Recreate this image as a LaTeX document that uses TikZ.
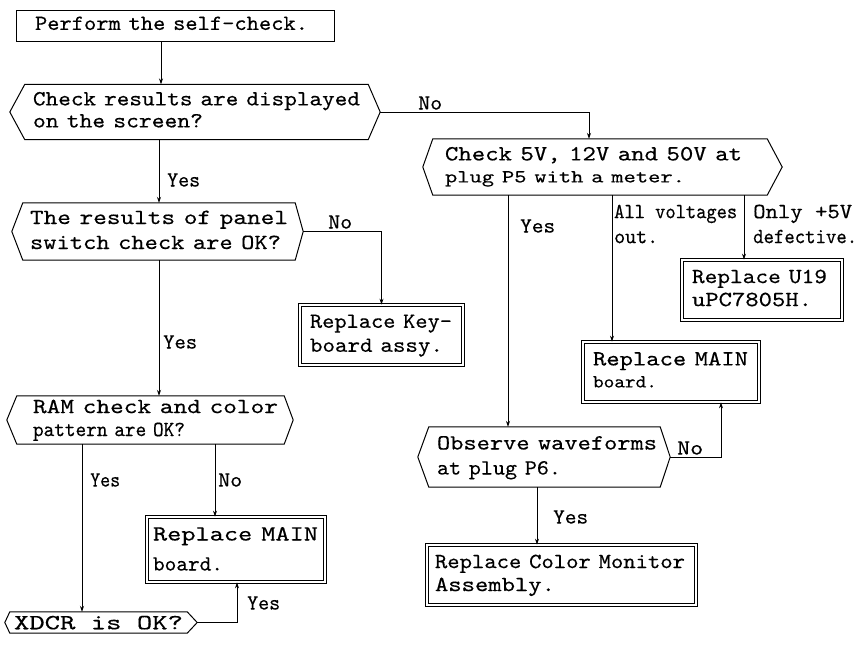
\documentclass[tikz,border=0pt]{standalone}
\usepackage{fontspec}
\newfontfamily\twfont{lmmono10-regular}[Extension=.otf, FakeBold=0.35]
\usepackage{graphicx}
\usetikzlibrary{arrows.meta}
\newcommand\fw[2]{\resizebox{#1pt}{1.08\height}{#2}}
\newcommand\fwv[3]{\resizebox{#1pt}{#2\height}{#3}}
\newcommand\myfs[1]{\twfont\fontsize{20}{#1}\selectfont}
\newcommand\hexa[3]{\draw[shp] (#1.north west) -- (#1.north east) -- ([xshift=#3pt]#1.east) -- (#1.south east) -- (#1.south west) -- ([xshift=-#2pt]#1.west) -- cycle;}
\tikzset{
  shp/.style={line width=1pt},
  arr/.style={line width=0.8pt, -{Stealth[length=6pt,width=4pt]}},
  box/.style={inner ysep=0pt, align=left},
  rbox/.style={box, draw, double, double distance=2pt, line width=0.8pt},
  lbl/.style={inner sep=0pt, anchor=west, align=left, font=\myfs{25}},
}
\begin{document}
\begin{tikzpicture}[x=1pt,y=-1pt]
\useasboundingbox (0,0) rectangle (863,648);
% nodes
\node[box, draw, line width=1pt, minimum height=31pt, inner xsep=19pt, text width=280pt, font=\myfs{22}] (start) at (175,25.5) {\strut\fw{273}{Perform the self-check.}};
\node[box, minimum height=55pt, inner xsep=8pt, text width=327pt, font=\myfs{22}] (d1) at (196.5,112) {\strut\fw{327}{Check results are displayed}\\\strut\fw{170}{on the screen?}};
\node[box, minimum height=56pt, inner xsep=12pt, text width=310pt, font=\myfs{22}] (d2) at (600,167) {\strut\fw{297}{Check 5V, 12V and 50V at}\\\strut\fwv{240}{0.92}{plug P5 with a meter.}};
\node[box, minimum height=57pt, inner xsep=7pt, text width=258pt, font=\myfs{25}] (d3) at (159,231.5) {\strut\fw{258}{The results of panel}\\\strut\fw{251}{switch check are OK?}};
\node[rbox, minimum height=60pt, inner xsep=10pt, text width=143pt, font=\myfs{24}] (key) at (381.5,335) {\strut\fw{142}{Replace Key-}\\\strut\fw{133}{board assy.}};
\node[rbox, minimum height=60pt, inner xsep=10pt, text width=140pt, font=\myfs{23}] (u19) at (762,290) {\strut\fw{135}{Replace U19}\\\strut\fw{120}{uPC7805H.}};
\node[rbox, minimum height=60pt, inner xsep=10pt, text width=156pt, font=\myfs{22}] (mainR) at (671,372) {\strut\fw{155}{Replace MAIN}\\\strut\fwv{64}{0.92}{board.}};
\node[box, minimum height=48pt, inner xsep=16pt, text width=235pt, font=\myfs{23}] (d4) at (150.5,420) {\strut\fw{245}{RAM check and color}\\\strut\fw{152}{pattern are OK?}};
\node[rbox, minimum height=65pt, inner xsep=6pt, text width=166pt, font=\myfs{30}] (mainL) at (236,549.5) {\strut\fw{165}{Replace MAIN}\\\strut\fw{70}{board.}};
\node[box, minimum height=60pt, inner xsep=8pt, text width=215pt, font=\myfs{25}] (d5) at (544.5,457) {\strut\fw{220}{Observe waveforms}\\\strut\fw{124}{at plug P6.}};
\node[rbox, minimum height=60pt, inner xsep=8pt, text width=253pt, font=\myfs{23}] (color) at (561.5,575) {\strut\fw{250}{Replace Color Monitor}\\\strut\fw{120}{Assembly.}};
\node[inner xsep=4pt, inner ysep=0pt, minimum height=21pt, text height=13.5pt, text depth=0pt, font=\myfs{22}] (xdcr) at (98.5,622.5) {\fw{169}{XDCR is OK?}};
% decision outlines
\hexa{d1}{15}{12}
\hexa{d2}{10}{15}
\hexa{d3}{11}{8}
\hexa{d4}{10}{9}
\hexa{d5}{11}{10}
\hexa{xdcr}{5}{10}
\coordinate (d1r) at ([xshift=12pt]d1.east);
\coordinate (d3r) at ([xshift=8pt]d3.east);
\coordinate (d5r) at ([xshift=10pt]d5.east);
\coordinate (xr) at ([xshift=10pt]xdcr.east);
% connectors
\draw[arr] ([xshift=-14pt]start.south) -- ([xshift=-14pt]start.south |- d1.north);
\draw[arr] (d3.north |- d1.south) -- (d3.north);
\draw[arr] (d1r) -| ([xshift=-11pt]d2.north);
\draw[arr] ([xshift=-92pt]d2.south) -- ([xshift=-92pt]d2.south |- d5.north);
\draw[arr] ([xshift=12pt]d2.south) -- ([xshift=12pt]d2.south |- mainR.north);
\draw[arr] ([xshift=144pt]d2.south) -- ([xshift=144pt]d2.south |- u19.north);
\draw[arr] (d3r) -| (key.north);
\draw[arr] (d3.south) -- (d3.south |- d4.north);
\draw[arr] ([xshift=-68.5pt]d4.south) -- ([xshift=-68.5pt]d4.south |- xdcr.north);
\draw[arr] ([xshift=64.5pt]d4.south) -- ([xshift=64.5pt]d4.south |- mainL.north);
\draw[arr] (xr) -| ([xshift=1pt]mainL.south);
\draw[arr] ([xshift=-7.5pt]d5.south) -- ([xshift=-7.5pt]d5.south |- color.north);
\draw[arr] (d5r) -| ([xshift=50pt]mainR.south);
% labels
\node[lbl] (lno1) at (418,103) {\fw{24}{No}};
\node[lbl] (lyes1) at (167,180) {\fw{33}{Yes}};
\node[lbl] (lyes2) at (520,226) {\fw{35}{Yes}};
\node[lbl] (lall) at (614,224) {\fw{123}{All voltages}\\\fw{44}{out.}};
\node[lbl] (lonly) at (753,224) {\fw{99}{Only +5V}\\\fw{104}{defective.}};
\node[lbl] (lno2) at (328,222) {\fw{24}{No}};
\node[lbl] (lyes3) at (163,342) {\fw{34}{Yes}};
\node[lbl] (lyes4) at (90,480) {\fw{30}{Yes}};
\node[lbl] (lno3) at (218,480) {\fw{24}{No}};
\node[lbl] (lyes5) at (247,603) {\fw{33}{Yes}};
\node[lbl] (lyes6) at (553,517) {\fw{35}{Yes}};
\node[lbl] (lno4) at (677,448) {\fw{26}{No}};
\end{tikzpicture}
\end{document}
